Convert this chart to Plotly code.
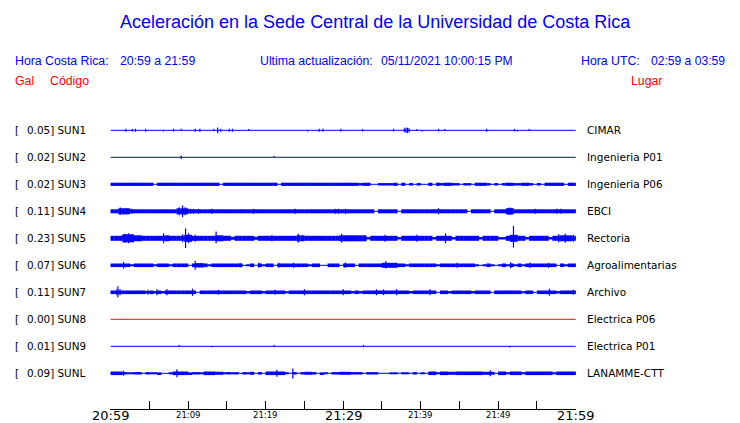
import plotly.graph_objects as go

# ---------------- data ----------------
CODES = ["SUN1", "SUN2", "SUN3", "SUN4", "SUN5", "SUN6", "SUN7", "SUN8", "SUN9", "SUNL"]
GAL = ["0.05", "0.02", "0.02", "0.11", "0.23", "0.07", "0.11", "0.00", "0.01", "0.09"]
PLACES = ["CIMAR", "Ingenieria P01", "Ingenieria P06", "EBCI", "Rectoria",
          "Agroalimentarias", "Archivo", "Electrica P06", "Electrica P01", "LANAMME-CTT"]

WINDOW_MIN = 60          # minutes shown (20:59 -> 21:59)
BIN_MIN = 0.5            # envelope bin length, minutes
TICK_MINUTES = [0, 5, 10, 15, 20, 25, 30, 35, 40, 45, 50, 55, 60]
MAJOR_TICKS = {0: "20:59", 30: "21:29", 60: "21:59"}
MINOR_TICKS = {10: "21:09", 20: "21:19", 40: "21:39", 50: "21:49"}

TITLE = "Aceleración en la Sede Central de la Universidad de Costa Rica"
LOCAL_LABEL, LOCAL_RANGE = "Hora Costa Rica:", "20:59 a 21:59"
UPDATE_LABEL, UPDATE_VALUE = "Ultima actualización:", "05/11/2021 10:00:15 PM"
UTC_LABEL, UTC_RANGE = "Hora UTC:", "02:59 a 03:59"

# envelope half-amplitudes (display units) per 0.5-minute bin
BAND_SUN3 = [1.6, 1.6, 1.6, 1.6, 1.6, 1.6, 1.6, 1.6, 1.6, 1.6,
             1.6, 0, 1.6, 1.6, 1.6, 1.6, 1.6, 1.6, 1.6, 1.6,
             1.6, 1.6, 1.6, 1.6, 1.6, 1.6, 1.6, 1.6, 0, 1.6,
             1.6, 1.6, 1.6, 1.6, 1.6, 1.6, 1.6, 1.6, 1.6, 1.6,
             1.6, 1.6, 1.6, 0, 1.6, 1.6, 1.6, 1.6, 1.6, 1.6,
             1.6, 1.6, 1.6, 1.6, 1.6, 1.6, 1.6, 1.6, 1.6, 1.6,
             1.6, 1.6, 1.6, 1.6, 1.2, 1.6, 1.6, 0, 0, 1.2,
             1.2, 1.2, 1.2, 1.6, 0, 1.6, 0, 1.2, 0, 1.2,
             0, 0, 1.6, 0, 1.6, 1.2, 1.6, 1.6, 1.2, 1.2,
             0, 1.2, 1.2, 0, 1.6, 1.6, 1.6, 1.2, 0, 1.2,
             0, 1.2, 1.6, 1.6, 1.2, 1.2, 1.6, 1.6, 1.2, 0,
             1.2, 0, 1.6, 1.6, 1.6, 1.6, 1.6, 0, 1.6, 1.6]
BAND_SUN4 = [2, 2, 3, 3, 3, 2, 2, 2, 2, 2,
             2, 2, 2, 2, 2, 2, 2, 3, 3, 3,
             2, 2, 2, 2, 2, 2, 2, 2, 2, 2,
             2, 2, 2, 2, 2, 2, 2, 2, 2, 2,
             2, 2, 2, 2, 2, 2, 2, 2, 2, 2,
             2, 2, 2, 2, 2, 2, 2, 2, 2, 2,
             2, 2, 2, 2, 2, 2, 2, 2, 0, 2,
             2, 2, 2, 2, 0, 2, 2, 2, 2, 2,
             2, 2, 2, 2, 2, 2, 2, 2, 2, 2,
             2, 2, 0, 2, 2, 2, 2, 2, 0, 2,
             2, 2, 3, 3, 2, 2, 2, 2, 2, 2,
             2, 2, 2, 2, 2, 2, 2, 2, 2, 2]
BAND_SUN5 = [2.5, 2.5, 2.5, 4, 4, 4, 3, 3, 2.5, 2.5,
             2.5, 2.5, 2.5, 2.5, 3, 2.5, 2.5, 2.5, 2.5, 3.5,
             3.5, 2.5, 2.5, 2.5, 2.5, 2.5, 2.5, 3, 3, 2.5,
             2.5, 1.5, 2.5, 2.5, 2.5, 2.5, 2.5, 1.5, 2.5, 2.5,
             2.5, 2.5, 2.5, 2.5, 2.5, 2.5, 2.5, 2.5, 3, 3,
             2.5, 2.5, 2.5, 2.5, 2.5, 2.5, 2.5, 2.5, 2.5, 3,
             3, 3, 3, 3, 3, 3, 1.2, 2.5, 2.5, 2.5,
             2.5, 2.5, 2.5, 2.5, 1.2, 2.5, 2.5, 2.5, 2.5, 2.5,
             2.5, 2.5, 2.5, 1.2, 2.5, 2.5, 2.5, 2.5, 1.2, 2.5,
             2.5, 2.5, 2.5, 2.5, 2.5, 1.2, 2.5, 2.5, 2.5, 2.5,
             1.2, 1.2, 2.5, 3.5, 3.5, 2.5, 2.5, 1.2, 2.5, 2.5,
             2.5, 2.5, 2.5, 1.2, 2.5, 2.5, 3, 3, 3, 2.5]
BAND_SUN6 = [1.8, 1.8, 1.8, 1.8, 1.8, 1.0, 1.8, 1.8, 1.8, 1.8,
             1.8, 1.0, 1.8, 1.8, 1.8, 1.0, 1.8, 1.8, 1.8, 1.8,
             0, 1.8, 2.2, 2.2, 1.8, 1.0, 1.8, 1.8, 1.8, 1.8,
             1.8, 1.8, 1.8, 1.8, 0, 1.0, 1.8, 0, 1.8, 1.0,
             1.8, 1.8, 0, 1.8, 1.8, 1.8, 1.8, 1.8, 1.8, 1.8,
             1.8, 1.0, 1.8, 1.8, 0, 0, 1.8, 1.8, 1.8, 0,
             1.8, 1.8, 1.8, 0, 1.8, 1.8, 1.8, 1.8, 1.8, 1.8,
             2.5, 2.5, 2.5, 2.5, 1.8, 1.8, 1.0, 1.8, 1.8, 1.8,
             1.8, 1.8, 1.8, 1.8, 1.0, 1.8, 1.8, 1.8, 1.8, 1.8,
             1.8, 1.8, 1.8, 1.8, 1.0, 0, 1.0, 1.8, 1.0, 0,
             1.0, 1.8, 1.0, 1.8, 1.0, 1.8, 1.0, 1.8, 1.8, 1.8,
             1.8, 1.8, 1.8, 1.8, 1.8, 0, 1.8, 1.0, 1.8, 1.8]
BAND_SUN7 = [1.8, 1.8, 1.8, 1.8, 1.8, 1.8, 1.8, 1.8, 1.8, 1.2,
             1.8, 1.2, 1.8, 1.2, 1.8, 1.8, 1.8, 1.8, 1.8, 1.8,
             1.8, 1.8, 0, 1.8, 1.8, 1.8, 1.8, 1.8, 1.8, 1.8,
             1.8, 1.8, 1.8, 1.8, 1.8, 1.2, 1.8, 1.8, 1.8, 1.2,
             1.8, 1.8, 1.8, 1.8, 1.8, 1.0, 1.8, 1.8, 1.8, 1.8,
             1.8, 1.8, 1.8, 1.8, 1.8, 1.8, 1.8, 1.8, 1.8, 1.8,
             1.8, 1.8, 1.2, 1.8, 1.2, 1.8, 1.8, 1.8, 1.8, 1.8,
             1.8, 1.8, 1.8, 1.8, 1.8, 1.8, 1.8, 1.2, 1.8, 1.8,
             1.8, 1.8, 1.8, 1.8, 0, 1.8, 1.8, 1.2, 1.8, 1.8,
             1.8, 1.8, 1.8, 1.2, 1.8, 1.8, 1.8, 1.8, 0, 1.8,
             1.8, 1.8, 1.8, 1.8, 1.8, 1.8, 1.0, 1.8, 1.8, 0,
             1.8, 1.8, 1.8, 1.8, 1.8, 1.2, 1.8, 1.8, 1.8, 1.8]
BAND_SUNL = [1.8, 1.8, 1.8, 1.2, 1.0, 1.0, 1.2, 1.2, 0, 1.2,
             1.0, 1.0, 0.8, 0, 0, 1.0, 1.8, 1.8, 1.8, 1.8,
             0.8, 1.2, 1.2, 1.0, 1.8, 1.8, 1.8, 1.5, 1.5, 1.0,
             1.2, 1.0, 1.2, 0, 1.2, 1.0, 1.5, 0, 1.2, 0,
             1.8, 1.8, 1.8, 1.8, 1.8, 1.0, 0, 1.2, 0, 1.2,
             1.5, 1.5, 1.2, 0, 0.8, 1.0, 0, 1.2, 1.2, 1.5,
             1.5, 1.5, 1.2, 1.2, 1.2, 0, 1.2, 1.2, 1.2, 0,
             0, 0, 1.0, 1.0, 0, 1.0, 1.0, 0, 1.2, 0,
             1.0, 0, 1.8, 1.8, 1.0, 1.8, 1.8, 1.5, 1.5, 1.8,
             1.8, 1.8, 1.8, 1.8, 1.8, 1.8, 1.5, 1.5, 1.5, 0,
             1.8, 1.8, 1.0, 1.8, 1.8, 1.8, 1.0, 1.8, 1.8, 1.8,
             1.8, 1.8, 1.8, 1.8, 1.0, 1.8, 1.8, 1.8, 1.8, 1.8]

# isolated peaks: (minute, upward half-amplitude, downward half-amplitude)
PEAKS_SUN1 = [(1.96, 1.5, 1.5), (2.8, 1.3, 1.3), (3.2, 1.5, 1.5), (4.5, 1.5, 1.5), (6.8, 0.3, 1.2),
              (8.1, 1.5, 1.2), (9.1, 1.5, 0.3), (10.9, 1.5, 1.5), (11.5, 1.5, 1.5), (13.3, 1.2, 0.5),
              (13.8, 2.7, 3.0), (14.2, 1.5, 1.5), (15.3, 1.5, 1.5), (15.7, 1.5, 1.5), (17.8, 1.2, 0.3),
              (25.4, 0.3, 1.2), (26.9, 1.5, 1.5), (27.4, 1.5, 1.5), (29.7, 1.5, 1.2), (32.5, 1.2, 1.2),
              (36.5, 1.5, 1.2), (37.9, 2.0, 2.0), (38.1, 2.8, 2.5), (38.3, 2.5, 2.8), (38.5, 2.0, 2.0),
              (39.5, 1.2, 0.3), (40.2, 0.3, 1.2), (42.3, 1.5, 1.2), (43.1, 1.2, 0.3), (48.5, 1.5, 1.5),
              (52.1, 1.5, 1.2), (52.5, 0.3, 1.2), (54.0, 1.2, 0.3)]
PEAKS_SUN2 = [(9.1, 1.8, 1.8), (21.1, 1.2, 0)]
PEAKS_SUN3 = []
PEAKS_SUN4 = [(1.23, 3.7, 3.7), (1.66, 3, 3), (2.09, 3, 3), (2.73, 2.5, 2.5), (8.84, 4, 4),
              (9.27, 5.8, 5.8), (9.61, 4, 4), (10.26, 2.5, 2.5), (10.69, 2.5, 2.5), (11.33, 2.5, 2.5),
              (13.05, 2.5, 2.5), (16.92, 2, 2), (18.43, 2.5, 2.5), (23.8, 2.5, 2.5), (28.97, 2.5, 2.5),
              (29.4, 2.5, 2.5), (30.3, 2.5, 2.5), (42.3, 3, 3), (51.3, 3.5, 3.5), (51.55, 3.7, 3.7),
              (51.77, 3.2, 3.2), (54.78, 2.5, 2.5), (57.57, 2.5, 2.5), (58.1, 2.5, 2.5)]
PEAKS_SUN5 = [(1.87, 4.5, 4.5), (2.3, 5, 5), (6.82, 5, 5), (9.27, 4, 4), (9.66, 10, 9.7),
              (10.04, 5, 5), (10.9, 3.5, 3.5), (13.6, 6.7, 5), (20.8, 3, 3), (24.2, 4.5, 4.5),
              (29.8, 4.5, 4.5), (35.4, 3.5, 3.5), (39.5, 3.5, 3.5), (43.2, 5, 5), (51.97, 12.3, 9.3),
              (57.8, 4, 4), (58.65, 4.5, 4.5), (59.7, 3.5, 3.5)]
PEAKS_SUN6 = [(1.66, 3.3, 3.3), (10.9, 4.5, 4.5), (16.7, 2.3, 2.3), (19.1, 2.5, 2.5), (21.7, 2.5, 2.5),
              (23.6, 2.5, 2.5), (30.26, 2.8, 2.8), (35.5, 4.3, 3.3), (44.7, 2.5, 2.5), (51.6, 3, 3),
              (54.1, 2.8, 2.8), (56.5, 2.5, 2.5)]
PEAKS_SUN7 = [(0.8, 3, 3), (0.93, 6, 5.3), (1.2, 3, 3), (4.8, 2.5, 2.5), (5.96, 3, 3),
              (7.25, 3, 3), (10.56, 3.5, 3.5), (13.9, 2.5, 2.5), (21.2, 2.5, 2.5), (25.0, 3, 3),
              (30.0, 3, 3), (34.3, 3, 3), (35.2, 2.8, 2.8), (36.9, 3, 3), (41.2, 3, 3),
              (56.6, 3.5, 3.5), (59.7, 2.5, 2.5)]
PEAKS_SUN8 = []
PEAKS_SUN9 = [(8.84, 1.3, 0), (13.1, 0, 1.0), (21.1, 1.3, 0), (32.6, 1.3, 0), (51.5, 0, 1.3)]
PEAKS_SUNL = [(1.66, 2.5, 2.5), (8.54, 4, 4), (21.45, 3.5, 3.5), (23.5, 4.7, 5.3), (48.97, 3, 3)]

BANDS = [None, None, BAND_SUN3, BAND_SUN4, BAND_SUN5, BAND_SUN6, BAND_SUN7, None, None, BAND_SUNL]
PEAKS = [PEAKS_SUN1, PEAKS_SUN2, PEAKS_SUN3, PEAKS_SUN4, PEAKS_SUN5,
         PEAKS_SUN6, PEAKS_SUN7, PEAKS_SUN8, PEAKS_SUN9, PEAKS_SUNL]

# ---------------- styles / layout ----------------
TRACE_COLORS = ["#0000ff"] * 7 + ["#ff0000"] + ["#0000ff"] * 2
BLUE, RED = "#0000ff", "#ff0000"
HEAD_FONT = "Liberation Sans, Arial, sans-serif"
LABEL_FONT = "DejaVu Sans, sans-serif"

W, H = 740, 423
L, R, T, B = 110, 164, 116, 14
PW, PH = W - L - R, H - T - B
ROW = 27                     # vertical spacing between traces (display units)
FIRST_ROW_PX = 130.3         # pixel row of first trace
PAD = 2                      # annotation inner padding, px


def px(x):
    return (x - L) / PW


def py(y):
    return (H - B - y) / PH


fig = go.Figure()

for i, code in enumerate(CODES):
    c = -ROW * i
    col = TRACE_COLORS[i]
    fig.add_trace(go.Scatter(x=[0, WINDOW_MIN], y=[c, c], mode="lines",
                             line=dict(color=col, width=1), hoverinfo="skip"))
    band = BANDS[i]
    if band:
        bx, by, bb = [], [], []
        for k, a in enumerate(band):
            if a > 0:
                bx.append((k + 0.5) * BIN_MIN)
                by.append(2 * a)
                bb.append(c - a)
        fig.add_trace(go.Bar(x=bx, y=by, base=bb, width=BIN_MIN * 1.06,
                             marker=dict(color=col, line=dict(width=0)), hoverinfo="skip"))
    pk = PEAKS[i]
    if pk:
        sx, sy = [], []
        for t, hi, lo in pk:
            sx += [t, t, None]
            sy += [c - lo, c + hi, None]
        fig.add_trace(go.Scatter(x=sx, y=sy, mode="lines",
                                 line=dict(color=col, width=1.2), hoverinfo="skip"))

ann = []


def text(x, y, s, color, size, font, xanchor="left", xref="paper", yref="paper"):
    ann.append(dict(x=x, y=y, xref=xref, yref=yref, text=s, showarrow=False,
                    xanchor=xanchor, yanchor="middle",
                    font=dict(family=font, size=size, color=color)))


text(px(375), py(22), TITLE, BLUE, 18, HEAD_FONT, xanchor="center")
text(px(15 - PAD), py(61), LOCAL_LABEL, BLUE, 12.3, HEAD_FONT)
text(px(120 - PAD), py(61), LOCAL_RANGE, BLUE, 12.3, HEAD_FONT)
text(px(260 - PAD), py(61), UPDATE_LABEL, BLUE, 12.3, HEAD_FONT)
text(px(381 - PAD), py(61), UPDATE_VALUE, BLUE, 12.1, HEAD_FONT)
text(px(580.5 - PAD), py(61), UTC_LABEL, BLUE, 12.3, HEAD_FONT)
text(px(651 - PAD), py(61), UTC_RANGE, BLUE, 12.1, HEAD_FONT)
text(px(15 - PAD), py(81), "Gal", RED, 12.3, HEAD_FONT)
text(px(50 - PAD), py(81), "Código", RED, 12.3, HEAD_FONT)
text(px(630.5 - PAD), py(81), "Lugar", RED, 12.3, HEAD_FONT)

for i, code in enumerate(CODES):
    c = -ROW * i
    text(px(15 - PAD), c, "[", "black", 10.4, LABEL_FONT, yref="y")
    text(px(27 - PAD), c, GAL[i] + "] " + code, "black", 10.4, LABEL_FONT, yref="y")
    text(px(587 - PAD), c, PLACES[i], "black", 10.5, LABEL_FONT, yref="y")

for t, s in MAJOR_TICKS.items():
    text(t, py(415.5), s, "black", 13, LABEL_FONT, xanchor="center", xref="x")
for t, s in MINOR_TICKS.items():
    text(t, py(414.5), s, "black", 8.5, LABEL_FONT, xanchor="center", xref="x")

x0 = (L - 110.7) / 7.75
fig.update_layout(
    width=W, height=H, margin=dict(l=L, r=R, t=T, b=B),
    paper_bgcolor="white", plot_bgcolor="white",
    showlegend=False, barmode="overlay", annotations=ann,
    xaxis=dict(range=[x0, x0 + PW / 7.75], showgrid=False, zeroline=False,
               showline=True, linecolor="black", linewidth=1,
               ticks="inside", ticklen=8, tickwidth=1, tickcolor="black",
               tickvals=TICK_MINUTES, showticklabels=False, fixedrange=True),
    yaxis=dict(range=[FIRST_ROW_PX - (H - B), FIRST_ROW_PX - T], visible=False,
               showgrid=False, zeroline=False, fixedrange=True),
)

fig.write_html("out.html", config={"displayModeBar": False},
               post_script="document.body.style.margin='0';document.body.style.overflow='hidden';")
